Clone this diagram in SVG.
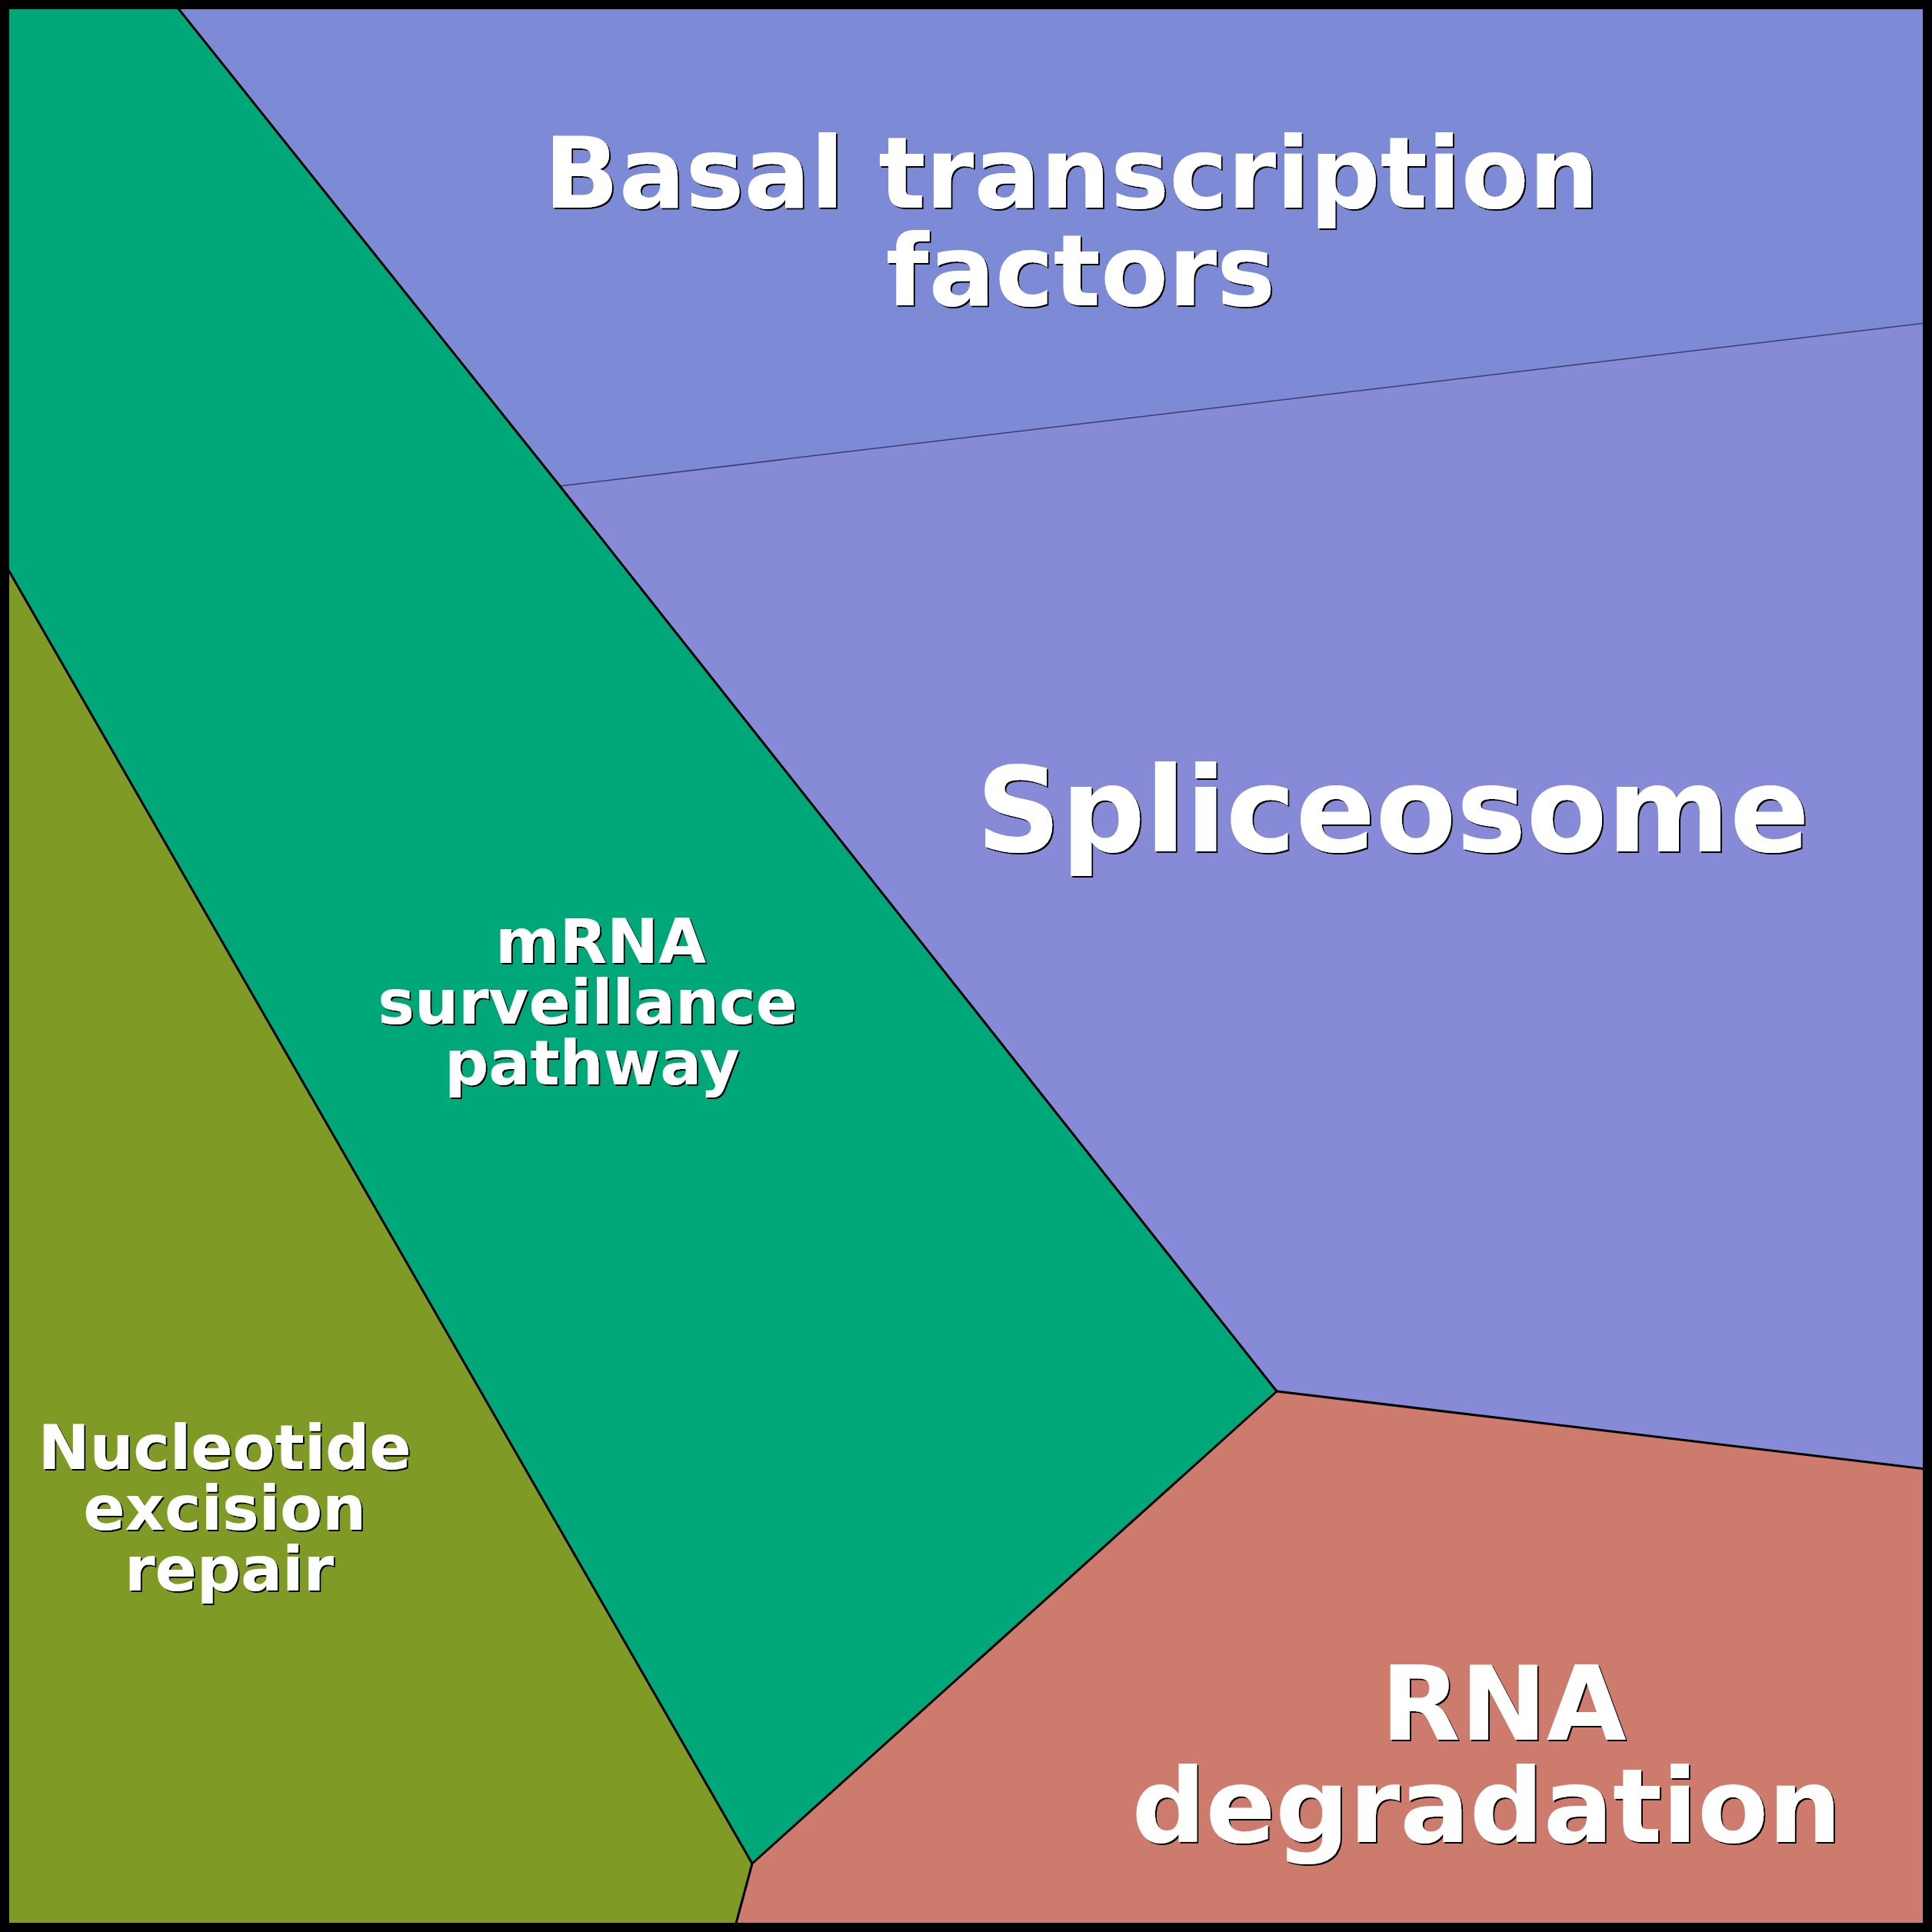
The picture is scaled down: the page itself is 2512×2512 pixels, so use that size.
<svg xmlns="http://www.w3.org/2000/svg" width="2512" height="2512" viewBox="0 0 2512 2512">
<defs>
<style>
.cell{stroke:#000;stroke-width:3;stroke-linejoin:round}
.thin{stroke:#3a3f6a;stroke-width:1.5}
.lbl{font-family:"DejaVu Sans","Liberation Sans",sans-serif;font-weight:bold;fill:#fff;text-anchor:middle;filter:url(#sh)}
</style>
<filter id="sh" x="-5%" y="-5%" width="110%" height="110%">
<feDropShadow dx="2" dy="2" stdDeviation="0.6" flood-color="#000" flood-opacity="1"/>
</filter>
</defs>
<g id="regions">
<g id="basal"><polygon fill="#7D8BD7" points="223,0 2512,0 2512,419 728,632"/></g>
<g id="spliceosome"><polygon fill="#878AD6" points="728,632 2512,419 2512,1911 1660,1809"/></g>
<g id="mrna"><polygon fill="#00A779" points="0,0 223,0 728,632 1660,1809 978,2423 0,722"/></g>
<g id="rnadeg"><polygon fill="#CD7B6C" points="1660,1809 2512,1911 2512,2512 954,2512 978,2423"/></g>
<g id="ner"><polygon fill="#7F9B26" points="0,722 978,2423 954,2512 0,2512"/></g>
</g>
<g id="connectors" fill="none">
<line class="thin" x1="728" y1="632" x2="2512" y2="419"/>
<polyline class="cell" points="223,0 728,632 1660,1809 978,2423 0,722"/>
<polyline class="cell" points="2512,1911 1660,1809"/>
<polyline class="cell" points="978,2423 954,2512"/>
</g>
<rect x="0" y="0" width="2512" height="2512" fill="none" stroke="#000" stroke-width="24"/>
<g id="labels">
<text class="lbl" font-size="128" x="1393" y="270">Basal transcription</text>
<text class="lbl" font-size="128" x="1405" y="397">factors</text>
<text class="lbl" font-size="153" x="1811" y="1107">Spliceosome</text>
<text class="lbl" font-size="80" x="781" y="1252">mRNA</text>
<text class="lbl" font-size="80" x="764" y="1331">surveillance</text>
<text class="lbl" font-size="80" x="770" y="1410">pathway</text>
<text class="lbl" font-size="80" x="292" y="1910">Nucleotide</text>
<text class="lbl" font-size="80" x="292" y="1989">excision</text>
<text class="lbl" font-size="80" x="298" y="2068">repair</text>
<text class="lbl" font-size="134" x="1955" y="2262">RNA</text>
<text class="lbl" font-size="134" x="1933" y="2395">degradation</text>
</g>
</svg>
